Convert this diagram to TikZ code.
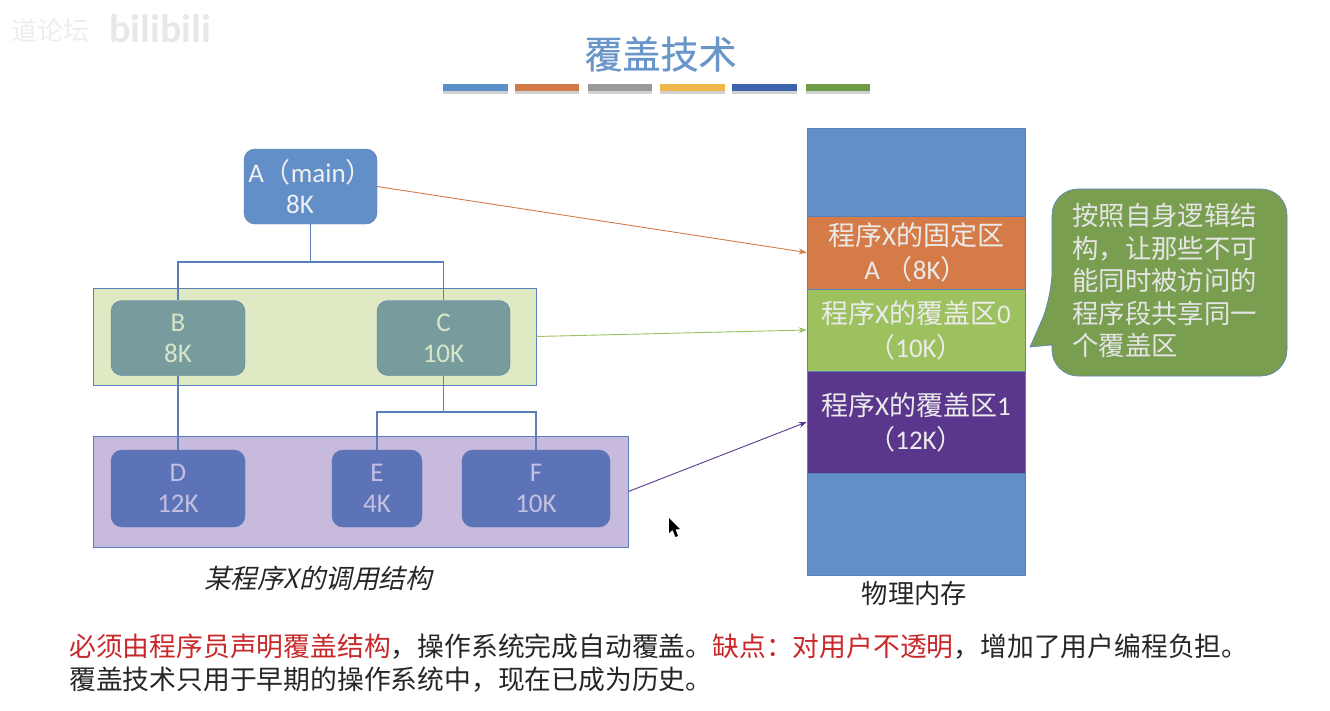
\documentclass[tikz,border=0pt]{standalone}
\usepackage{fontspec}
\setmainfont{Noto Sans CJK SC}
\newfontfamily\latfont{Carlito}
\newfontfamily\cjkfont{Noto Sans CJK SC}
\newfontfamily\titlefont[FakeBold=0.5]{Noto Sans CJK SC}
\newfontfamily\slantfont[FakeSlant=0.22]{Noto Sans CJK SC}
\usetikzlibrary{arrows.meta,positioning}
\newcommand{\la}[1]{{\latfont #1}}
\definecolor{barblue}{HTML}{5B8FC9}
\definecolor{barorange}{HTML}{D3794A}
\definecolor{bargray}{HTML}{9A9A9A}
\definecolor{baryellow}{HTML}{EFB74A}
\definecolor{bardark}{HTML}{3F62AD}
\definecolor{bargreen}{HTML}{6F9A46}
\definecolor{titleblue}{HTML}{6A95C9}
\definecolor{memblue}{HTML}{638FC8}
\definecolor{memorange}{HTML}{D57B48}
\definecolor{memgreen}{HTML}{9DC15E}
\definecolor{mempurple}{HTML}{5A378C}
\definecolor{tipgreen}{HTML}{7A9E50}
\definecolor{linkblue}{HTML}{5A80BC}
\definecolor{redtext}{HTML}{C8282A}
\definecolor{grpgreen}{HTML}{DFEAC4}
\definecolor{grppurple}{HTML}{C8BADC}
\definecolor{boxteal}{HTML}{789C9E}
\definecolor{boxindigo}{HTML}{5D73B7}
\definecolor{tealtext}{HTML}{D6E6C8}
\definecolor{indigotext}{HTML}{C4C0E2}
\tikzset{
  prog/.style={draw=memblue!85!black,rounded corners=11pt,inner sep=0pt,minimum height=75pt,
    font=\latfont\fontsize{27}{31}\selectfont,align=center},
  progtop/.style={prog,fill=memblue,text=white!94!black},
  progmid/.style={prog,fill=boxteal,text=tealtext},
  proglow/.style={prog,fill=boxindigo,text=indigotext,minimum height=77pt},
  group/.style={draw=linkblue,line width=0.8pt,inner sep=0pt},
  cell/.style={draw=linkblue,line width=0.6pt,inner sep=0pt,minimum width=218pt,text=white!92!black,
    font=\fontsize{27}{34}\selectfont,align=center},
  link/.style={draw=linkblue,line width=1.2pt},
  pointer/.style={line width=0.9pt,-{Stealth[length=8pt,width=6pt]}},
  caption/.style={inner sep=0pt,font=\fontsize{26.3}{30}\selectfont,text=black!85},
  note/.style={inner sep=0pt,anchor=west,text=black!85,font=\fontsize{26.8}{33}\selectfont},
}
\begin{document}
\begin{tikzpicture}[x=1pt,y=-1pt]
  \useasboundingbox (0,0) rectangle (1330,710);
  % watermark
  \node[inner sep=0pt,text=black!7,font=\fontsize{26}{26}\selectfont] (wmark) at (50,31) {道论坛};
  \node[inner sep=0pt,text=black!9,font=\latfont\bfseries\fontsize{40}{40}\selectfont] (wlogo) at (160,29) {bilibili};
  % title
  \node[inner sep=0pt,text=titleblue,font=\titlefont\fontsize{38}{38}\selectfont] (title) at (660.5,54) {覆盖技术};
  \foreach \xa/\xb/\barcol in {443/508/barblue,515/579/barorange,588/652/bargray,660/725/baryellow,732/797/bardark,806/870/bargreen}{
    \fill[black!18] (\xa,90) rectangle (\xb,94);
    \fill[\barcol] (\xa,84) rectangle (\xb,91);
  }
  % groups
  \node[group,fill=grpgreen,minimum width=443pt,minimum height=97pt] (gone) at (314.5,336.5) {};
  \node[group,fill=grppurple,minimum width=535pt,minimum height=111pt] (gtwo) at (360.5,491.5) {};
  % program tree
  \node[progtop,minimum width=133pt] (A) at (310.5,186.5) {A{\cjkfont（}main{\cjkfont）}\\8K\hspace*{21pt}};
  \node[progmid,minimum width=134pt] (B) at (178,338) {B\\8K};
  \node[progmid,minimum width=133pt] (C) at (443.5,338) {C\\10K};
  \node[proglow,minimum width=134pt] (D) at (178,488.5) {D\\12K};
  \node[proglow,minimum width=90pt] (E) at (377,488.5) {E\\4K};
  \node[proglow,minimum width=148pt] (F) at (536,488.5) {F\\10K};
  \coordinate (Ajoin) at (310.5,262);
  \coordinate (Cjoin) at (443.5,412);
  \draw[link] (A.south) -- (Ajoin);
  \draw[link] (B.north) |- (Ajoin) -| (C.north);
  \draw[link] (B.south) -- (D.north);
  \draw[link] (C.south) -- (Cjoin);
  \draw[link] (E.north) |- (Cjoin) -| (F.north);
  \node[caption,font=\slantfont\fontsize{26.5}{30}\selectfont] (progcap) at (318,578) {某程序X的调用结构};
  % physical memory
  \node[cell,fill=memblue,minimum height=88pt] (mtop) at (916,172) {};
  \node[cell,fill=memorange,minimum height=73pt] (mfix) at (916,252.5) {程序\la{X}的固定区\\\la{A}\hspace{6pt}（\la{8K}）};
  \node[cell,fill=memgreen,minimum height=82pt] (mzero) at (916,330) {程序\la{X}的覆盖区\la{0}\\（\la{10K}）};
  \node[cell,fill=mempurple,minimum height=102pt] (mone) at (916,422) {程序\la{X}的覆盖区\la{1}\\（\la{12K}）};
  \node[cell,fill=memblue,minimum height=102pt] (mbot) at (916,524) {};
  \node[caption] (memcap) at (914.5,594) {物理内存};
  \draw[pointer,draw=memorange] (A.east) -- (mfix.west);
  \draw[pointer,draw=memgreen] (gone.east) -- (mzero.west);
  \draw[pointer,draw=mempurple] (gtwo.east) -- (mone.west);
  % callout
  \draw[draw=linkblue,line width=0.6pt,fill=tipgreen,rounded corners=26pt]
    (1052,297) [sharp corners] -- (1030,347) -- (1052,345) [rounded corners=26pt] -- (1052,376) -- (1287,376) -- (1287,189) -- (1052,189) -- cycle;
  \node[inner sep=0pt,anchor=north west,align=left,text=white!90!black,font=\fontsize{26.4}{32.5}\selectfont] (tip) at (1072,203)
    {按照自身逻辑结\\构，让那些不可\\能同时被访问的\\程序段共享同一\\个覆盖区};
  % notes
  \node[note] (noteone) at (69,647)
    {\textcolor{redtext}{必须由程序员声明覆盖结构}，操作系统完成自动覆盖。\textcolor{redtext}{缺点：对用户不透明}，增加了用户编程负担。};
  \node[note] (notetwo) at (69,680) {覆盖技术只用于早期的操作系统中，现在已成为历史。};
  % mouse pointer
  \fill[black] (669,518) -- (669,533) -- (672.5,530) -- (675.5,537) -- (678,536) -- (675.5,529.5) -- (680,529) -- cycle;
\end{tikzpicture}
\end{document}
